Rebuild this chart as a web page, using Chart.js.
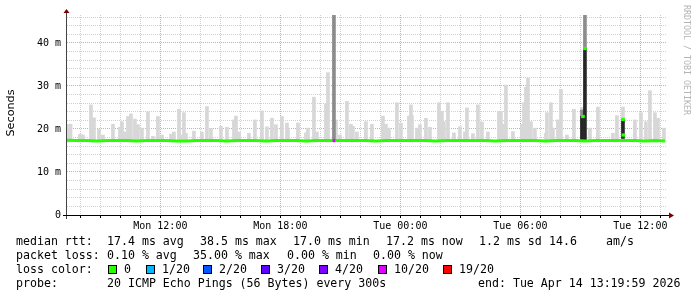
<!DOCTYPE html>
<html>
<head>
<meta charset="utf-8">
<script src="https://cdn.jsdelivr.net/npm/chart.js@4/dist/chart.umd.min.js"></script>
<style>
  body { margin: 0; background: #fff; }
  #wrap { position: relative; width: 697px; height: 297px; }
  .t { position: absolute; font-family: "DejaVu Sans Mono", monospace; font-size: 11.6px; line-height: 14px; color: #000; white-space: pre; }
  .box { position: absolute; width: 7px; height: 7px; border: 1px solid #000; }
  #ytitle { position: absolute; left: 4px; top: 106px; width: 14px; height: 14px; font-family: "DejaVu Sans", sans-serif; font-size: 11.2px; color: #000;
            transform-origin: 7px 7px; transform: rotate(-90deg); white-space: nowrap; line-height: 14px; text-align: center; }
  #wm { position: absolute; left: 682px; top: 5px; writing-mode: vertical-rl; font-family: "DejaVu Sans Mono", monospace; font-size: 8.3px; color: #b4b4b4; white-space: nowrap; }
</style>
</head>
<body>
<div id="wrap">
  <canvas id="chart" width="697" height="297"></canvas>
  <div id="ytitle"><span style="position:absolute;left:50%;top:0;transform:translateX(-50%)">Seconds</span></div>
  <div id="wm">RRDTOOL / TOBI OETIKER</div>
  <div id="legend"></div>
</div>
<script>
// hours counted from Mon 00:00
var xMin = 7.333, xMax = 37.333;
var tickHours = [12, 18, 24, 30, 36];
var tickLabels = ['Mon 12:00', 'Mon 18:00', 'Tue 00:00', 'Tue 06:00', 'Tue 12:00'];
var yLabelValues = [0, 10, 20, 30, 40];
var yLabels = ['0', '10 m', '20 m', '30 m', '40 m'];

// median rtt (ms), evenly spaced from medianStart to medianEnd
var medianStart = 7.33, medianEnd = 37.23;
var medianValues = [
  17.4, 17.3, 17.3, 17.2, 17.3, 17.3, 17.3, 17.2, 17.3, 17.3,
  17.3, 17.2, 17.2, 17.3, 17.3, 17.3, 17.2, 17.3, 17.3, 17.3,
  17.2, 17.3, 17.3, 17.3, 17.2, 17.3, 17.3, 17.3, 17.3, 17.3,
  17.3, 17.2, 17.3, 17.3, 17.3, 17.3, 17.3, 17.2, 17.3, 17.3,
  17.3, 17.3, 17.3, 17.2, 17.3, 17.3, 17.3, 17.3, 17.2, 17.3,
  17.3, 17.3, 17.2, 17.3, 17.3, 17.3, 17.3, 17.3, 17.2, 17.3, 17.2
];

// light smoke spikes: time and top (ms)
var spikeHours = [
  7.33, 7.38, 7.51, 7.98, 8.13, 8.53, 8.61, 8.68, 8.93, 9.13,
  9.63, 9.98, 10.08, 10.23, 10.38, 10.53, 10.73, 10.88, 11.08, 11.38,
  11.63, 11.88, 12.08, 12.53, 12.68, 12.93, 13.03, 13.18, 13.28, 13.68,
  14.08, 14.33, 14.53, 15.03, 15.33, 15.68, 15.78, 15.93, 16.43, 16.73,
  17.08, 17.33, 17.58, 17.78, 18.08, 18.33, 18.38, 18.88, 19.28, 19.38,
  19.68, 19.83, 20.28, 20.38, 20.78, 20.98, 21.33, 21.53, 21.63, 21.83,
  22.28, 22.58, 23.13, 23.28, 23.43, 23.83, 24.03, 24.43, 24.53, 24.58,
  24.83, 24.98, 25.28, 25.48, 25.93, 26.08, 26.18, 26.38, 26.68, 26.98,
  27.23, 27.33, 27.63, 27.88, 28.08, 28.38, 28.93, 29.03, 29.18, 29.28,
  29.63, 30.08, 30.18, 30.28, 30.38, 30.53, 30.73, 31.28, 31.33, 31.53,
  31.63, 31.88, 32.03, 32.33, 32.68, 33.08, 33.48, 33.88, 34.63, 34.83,
  35.13, 35.73, 36.03, 36.28, 36.48, 36.73, 36.88, 37.18
];
var spikeTops = [
  21.1, 20.0, 21.1, 18.8, 18.6, 25.6, 20.7, 22.6, 20.0, 18.6,
  21.1, 20.4, 21.7, 19.3, 22.9, 23.5, 22.3, 21.0, 20.2, 24.0,
  18.3, 22.9, 18.6, 18.8, 19.3, 24.6, 18.6, 23.8, 19.0, 19.5,
  19.3, 25.2, 20.1, 20.6, 20.4, 22.1, 23.0, 19.3, 19.0, 22.1,
  24.2, 20.5, 22.5, 21.0, 22.9, 21.4, 20.2, 21.4, 19.1, 20.2,
  27.4, 19.3, 25.8, 33.1, 22.1, 18.6, 26.4, 21.1, 20.6, 19.3,
  21.7, 21.1, 23.0, 21.1, 20.2, 26.1, 21.4, 23.0, 25.6, 23.1,
  20.2, 21.0, 22.5, 20.4, 26.1, 24.1, 21.7, 26.1, 19.1, 20.5,
  19.3, 24.9, 18.9, 25.6, 21.6, 19.3, 24.1, 24.1, 21.1, 30.2,
  19.4, 21.1, 26.1, 29.7, 31.8, 21.7, 20.2, 19.0, 23.8, 26.1,
  20.2, 22.1, 29.2, 18.6, 24.6, 25.0, 20.2, 25.1, 19.0, 23.1,
  25.1, 22.1, 23.8, 21.7, 28.9, 23.8, 22.5, 20.2
];

// dense smoke (mid grey and near black): time, low, high
var greyHours = [20.68, 33.23, 33.08];
var greyLow = [17.3, 38.7, 22.9];
var greyHigh = [46.5, 46.5, 24.4];
var blackHours = [33.08, 33.23, 35.13];
var blackLow = [17.3, 17.3, 17.8];
var blackHigh = [22.9, 38.7, 22.1];

// elevated median steps
var bumpHours = [33.13, 33.23, 35.13, 35.15];
var bumpValues = [22.9, 38.7, 22.2, 18.6];

// loss marks on the median
var lossHours = [20.68];
var lossValues = [17.3];

var smokeBase = 17.0;

var medianStep = (medianEnd - medianStart) / (medianValues.length - 1);
var medianData = medianValues.map(function (v, i) { return { x: medianStart + i * medianStep, y: v }; });
var spikeData = spikeHours.map(function (h, i) { return { x: h, y: [smokeBase, spikeTops[i]] }; });
var greyData = greyHours.map(function (h, i) { return { x: h, y: [greyLow[i], greyHigh[i]] }; });
var blackData = blackHours.map(function (h, i) { return { x: h, y: [blackLow[i], blackHigh[i]] }; });
var bumpData = bumpHours.map(function (h, i) { return { x: h, y: [bumpValues[i] - 0.3, bumpValues[i] + 0.3] }; });
var lossData = lossHours.map(function (h, i) { return { x: h, y: [lossValues[i] - 0.3, lossValues[i] + 0.3] }; });

var hourTicks = [];
for (var h = 8; h <= 37; h++) hourTicks.push(h);
var yTicks = [];
for (var v = 0; v <= 46; v += 2) yTicks.push(v);

var axesPlugin = {
  id: 'axes',
  afterDatasetsDraw: function (chart) {
    var ctx = chart.ctx, a = chart.chartArea;
    ctx.save();
    ctx.lineWidth = 1;
    ctx.strokeStyle = '#444';
    ctx.beginPath();
    ctx.moveTo(a.left - 0.5, a.bottom + 4);
    ctx.lineTo(a.left - 0.5, a.top - 2);
    ctx.stroke();
    ctx.strokeStyle = '#000';
    ctx.beginPath();
    ctx.moveTo(a.left - 4, a.bottom + 0.5);
    ctx.lineTo(a.right + 2, a.bottom + 0.5);
    ctx.stroke();
    ctx.fillStyle = '#7f0000';
    ctx.beginPath();
    ctx.moveTo(a.left - 3.5, a.top - 2);
    ctx.lineTo(a.left + 2.5, a.top - 2);
    ctx.lineTo(a.left - 0.5, a.top - 6);
    ctx.closePath();
    ctx.fill();
    ctx.beginPath();
    ctx.moveTo(a.right + 2, a.bottom - 2.5);
    ctx.lineTo(a.right + 2, a.bottom + 3.5);
    ctx.lineTo(a.right + 7, a.bottom + 0.5);
    ctx.closePath();
    ctx.fill();
    ctx.restore();
  }
};

var axisFont = { family: 'DejaVu Sans Mono', size: 10 };

new Chart(document.getElementById('chart').getContext('2d'), {
  type: 'bar',
  data: {
    datasets: [
      { type: 'bar', label: 'smoke', data: spikeData, backgroundColor: '#d7d7d7', barThickness: 3, grouped: false, order: 5 },
      { type: 'bar', label: 'smoke dense', data: greyData, backgroundColor: '#8c8c8c', barThickness: 3, grouped: false, order: 4 },
      { type: 'bar', label: 'smoke black', data: blackData, backgroundColor: '#262626', barThickness: 3, grouped: false, order: 3 },
      { type: 'line', label: 'median', data: medianData, borderColor: '#26ff00', borderWidth: 3, pointRadius: 0, tension: 0, order: 2 },
      { type: 'bar', label: 'median step', data: bumpData, backgroundColor: '#26ff00', barThickness: 3, grouped: false, order: 1 },
      { type: 'bar', label: 'loss', data: lossData, backgroundColor: '#dd00ff', barThickness: 2, grouped: false, order: 0 }
    ]
  },
  options: {
    responsive: false,
    animation: false,
    layout: { padding: { left: 0, right: 30, top: 15, bottom: 0 } },
    plugins: { legend: { display: false }, tooltip: { enabled: false } },
    scales: {
      x: {
        type: 'linear',
        min: xMin,
        max: xMax,
        offset: false,
        afterBuildTicks: function (s) { s.ticks = hourTicks.map(function (v) { return { value: v }; }); },
        afterFit: function (s) { s.height = 82; },
        ticks: {
          autoSkip: false, maxRotation: 0, padding: 2, color: '#000', font: axisFont,
          callback: function (v) { var i = tickHours.indexOf(v); return i < 0 ? '' : tickLabels[i]; }
        },
        grid: {
          offset: false,
          color: function (c) { return c.tick && tickHours.indexOf(c.tick.value) >= 0 ? '#eaa0a0' : '#d0d0d0'; },
          tickLength: 3,
          tickColor: '#000'
        },
        border: { display: false, dash: [1, 1] }
      },
      y: {
        min: 0,
        max: 46.5,
        afterBuildTicks: function (s) { s.ticks = yTicks.map(function (v) { return { value: v }; }); },
        afterFit: function (s) { s.width = 67; },
        ticks: {
          autoSkip: false, padding: 6, color: '#000', font: axisFont,
          callback: function (v) { var i = yLabelValues.indexOf(v); return i < 0 ? '' : yLabels[i]; }
        },
        grid: {
          color: function (c) { return c.tick && yLabelValues.indexOf(c.tick.value) >= 0 ? '#eaa0a0' : '#d0d0d0'; },
          drawTicks: false
        },
        border: { display: false, dash: [1, 1] }
      }
    }
  },
  plugins: [axesPlugin]
});

// legend text
var rows = [
  [[16, 'median rtt:'], [107, '17.4 ms avg'], [200, '38.5 ms max'], [293, '17.0 ms min'], [386, '17.2 ms now'], [479, '1.2 ms sd'], [549, '14.6'], [606, 'am/s']],
  [[16, 'packet loss:'], [107, '0.10 % avg'], [193, '35.00 % max'], [287, '0.00 % min'], [373, '0.00 % now']],
  [[16, 'loss color:']],
  [[16, 'probe:'], [107, '20 ICMP Echo Pings (56 Bytes) every 300s'], [478, 'end: Tue Apr 14 13:19:59 2026']]
];
var lossLabels = ['0', '1/20', '2/20', '3/20', '4/20', '10/20', '19/20'];
var lossColors = ['#26ff00', '#00b8ff', '#0059ff', '#5e00ff', '#7e00ff', '#dd00ff', '#ff0000'];
var lossBoxX = [108, 146, 203, 261, 319, 378, 443];

var legend = document.getElementById('legend');
var rowTop = [234, 248, 262, 276];
rows.forEach(function (r, ri) {
  r.forEach(function (item) {
    var d = document.createElement('div');
    d.className = 't';
    d.style.left = item[0] + 'px';
    d.style.top = rowTop[ri] + 'px';
    d.textContent = item[1];
    legend.appendChild(d);
  });
});
lossLabels.forEach(function (lbl, i) {
  var b = document.createElement('div');
  b.className = 'box';
  b.style.left = lossBoxX[i] + 'px';
  b.style.top = '265px';
  b.style.background = lossColors[i];
  legend.appendChild(b);
  var d = document.createElement('div');
  d.className = 't';
  d.style.left = (lossBoxX[i] + 16) + 'px';
  d.style.top = rowTop[2] + 'px';
  d.textContent = lbl;
  legend.appendChild(d);
});
</script>
</body>
</html>
